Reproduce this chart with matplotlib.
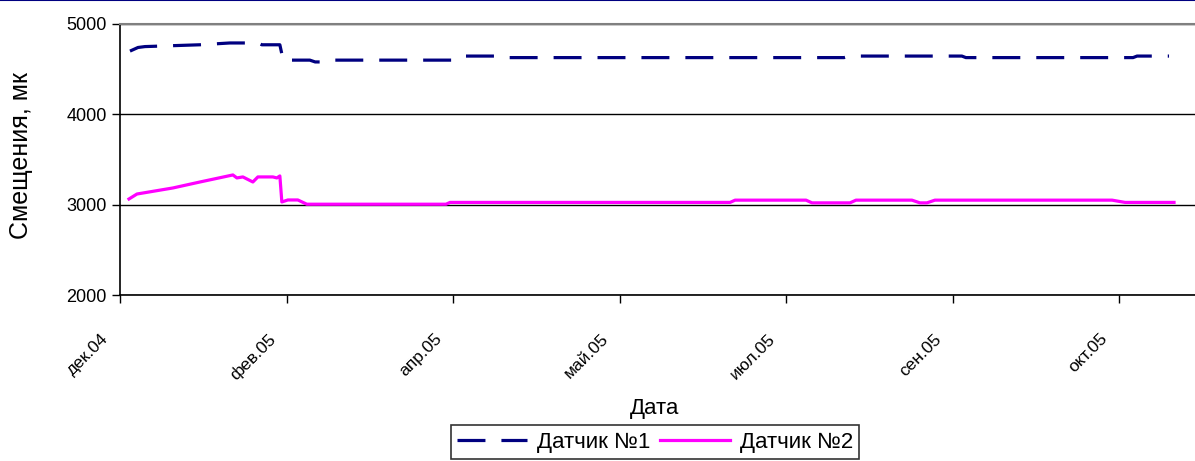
import matplotlib.pyplot as plt
from matplotlib.lines import Line2D
from matplotlib.transforms import ScaledTranslation

# x is a category index (one tick label every 50 categories, as in the Excel chart)
tick_pos = [0, 50, 100, 150, 200, 250, 300]
tick_labels = ['дек.04', 'фев.05', 'апр.05', 'май.05', 'июл.05', 'сен.05', 'окт.05']

x1 = [3, 5.4, 7.5, 24, 33, 41.4, 42.6, 48, 49, 57, 58.6, 63, 64.6, 100.6, 102.7,
      115.6, 117, 217.4, 219.2, 252.8, 254, 304.2, 305.4, 315]
y1 = [4700, 4740, 4750, 4770, 4790, 4790, 4770, 4770, 4600, 4600, 4580, 4580, 4600,
      4600, 4645, 4645, 4628, 4628, 4645, 4645, 4628, 4628, 4645, 4645]

x2 = [2.7, 5.1, 15.9, 24, 33.9, 35.1, 36.9, 39.9, 41.4, 45.9, 47.1, 48, 48.6, 50.4,
      53.4, 56.1, 97.9, 99.1, 183.2, 184.7, 206, 207.8, 219.2, 221, 237.8, 240.2,
      242.3, 244.7, 297.9, 301.8, 316.5]
y2 = [3063, 3118, 3185, 3251, 3329, 3296, 3307, 3251, 3307, 3307, 3296, 3318, 3030,
      3052, 3052, 3005, 3005, 3025, 3025, 3050, 3050, 3020, 3020, 3050, 3050, 3020,
      3020, 3050, 3050, 3025, 3025]

plt.rcParams['font.family'] = ['Liberation Sans', 'DejaVu Sans']

fig = plt.figure(figsize=(11.95, 4.61), dpi=100)
ax = fig.add_axes([120 / 1195, 1 - 295 / 461, 1 - 120 / 1195, (295 - 24) / 461])

ax.plot(x1, y1, color='#000080', lw=2.3, dashes=(8.75, 5), solid_capstyle='butt',
        label='Датчик №1')
ax.plot(x2, y2, color='#FF00FF', lw=2.3, label='Датчик №2')

ax.set_xlim(0, 322.8)
ax.set_ylim(2000, 5000)
ax.set_yticks([2000, 3000, 4000, 5000])
ax.set_xticks(tick_pos)
ax.set_xticklabels(tick_labels, rotation=45, ha='right', va='top',
                   rotation_mode='anchor', fontsize=12.5)
ax.tick_params(axis='y', labelsize=13, length=6, width=1, direction='out')
ax.tick_params(axis='x', length=6, width=1, direction='out', pad=20)
# shift rotated labels a bit to the left, like Excel does
shift = ScaledTranslation(-19 / 100, 0, fig.dpi_scale_trans)
for lab in ax.get_xticklabels():
    lab.set_transform(lab.get_transform() + shift)

ax.grid(axis='y', color='black', lw=1)
ax.set_axisbelow(True)

ax.spines['top'].set_color('#808080')
ax.spines['top'].set_linewidth(1.5)
ax.spines['right'].set_visible(False)
ax.spines['left'].set_linewidth(1.2)
ax.spines['bottom'].set_linewidth(1.2)

ax.set_ylabel('Смещения, мк', fontsize=18)
ax.yaxis.set_label_coords(-0.092, 0.515)
ax.yaxis.label.set_va('center')
ax.set_xlabel('Дата', fontsize=16)
ax.xaxis.set_label_coords(0.497, -0.42)
ax.xaxis.label.set_va('center')

leg = ax.legend(loc='upper center', bbox_to_anchor=(0.4977, -0.48), ncol=2,
                fontsize=16, frameon=True, fancybox=False, handlelength=3.15,
                handletextpad=0.45, columnspacing=0.4, borderpad=0.3,
                borderaxespad=0)
leg.get_frame().set_edgecolor('black')
leg.get_frame().set_linewidth(1.2)

# chart area border (only the top edge is visible in the crop)
fig.add_artist(Line2D([0, 1], [0.999, 0.999], color='#000080', lw=1.5,
                      transform=fig.transFigure))

fig.savefig('out.png', dpi=100)
